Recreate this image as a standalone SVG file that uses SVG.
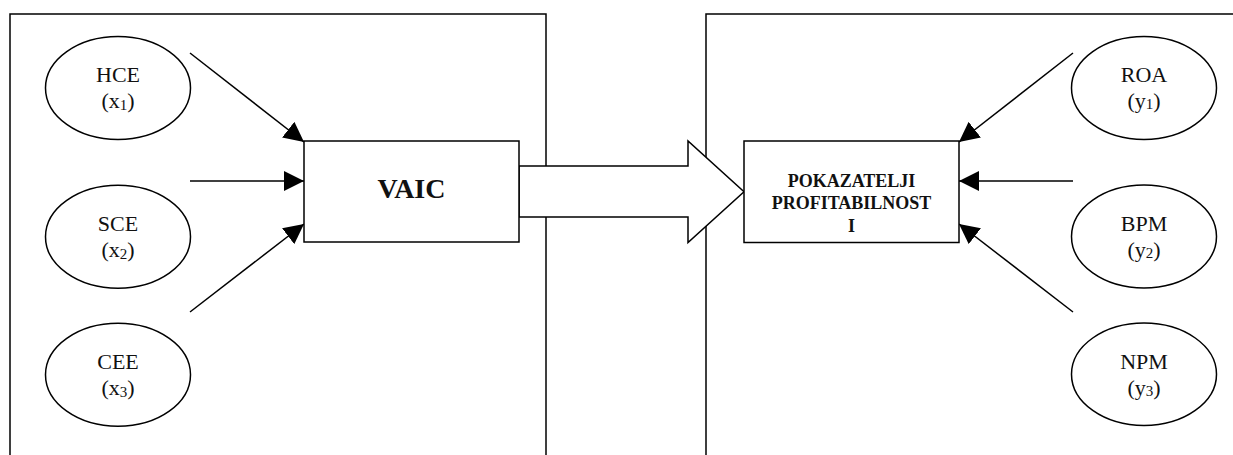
<svg xmlns="http://www.w3.org/2000/svg" width="1233" height="455" viewBox="0 0 1233 455">
<style>
  .frame { fill: none; stroke: #000; stroke-width: 1.5; }
  .box { fill: #fff; stroke: #000; stroke-width: 1.5; }
  .ell { fill: #fff; stroke: #000; stroke-width: 1.5; }
  .lbl { font-family: "Liberation Serif", "Times New Roman", serif; font-size: 22px; fill: #111; text-anchor: middle; }
  .sub { font-size: 15px; }
  .bold { font-family: "Liberation Serif", "Times New Roman", serif; font-weight: bold; fill: #111; text-anchor: middle; }
  .conn { stroke: #000; stroke-width: 1.5; fill: none; marker-end: url(#ah); }
</style>
<defs>
  <marker id="ah" markerUnits="userSpaceOnUse" markerWidth="20" markerHeight="20" refX="20" refY="10" orient="auto">
    <path d="M0,0 L20,10 L0,20 z" fill="#000"/>
  </marker>
</defs>
<rect width="1233" height="455" fill="#fff"/>
<g id="frame-left"><rect class="frame" x="10" y="14" width="536" height="460"/></g>
<g id="frame-right"><rect class="frame" x="706" y="14" width="540" height="460"/></g>

<g id="connectors">
  <line class="conn" x1="190" y1="53" x2="304" y2="142"/>
  <line class="conn" x1="190" y1="181" x2="304" y2="181"/>
  <line class="conn" x1="190" y1="312" x2="304" y2="224"/>
  <line class="conn" x1="1073" y1="53" x2="959" y2="142"/>
  <line class="conn" x1="1073" y1="181" x2="959" y2="181"/>
  <line class="conn" x1="1073" y1="312" x2="959" y2="224"/>
  <polygon id="block-arrow" points="519,166 688,166 688,141 744,191.7 688,242.5 688,217 519,217" fill="#fff" stroke="#000" stroke-width="1.5"/>
</g>

<g id="hce">
  <ellipse class="ell" cx="118" cy="88" rx="72.5" ry="51.5"/>
  <text class="lbl" x="118" y="82">HCE</text>
  <text class="lbl" x="118" y="108">(x<tspan class="sub" dy="2">1</tspan><tspan dy="-2">)</tspan></text>
</g>
<g id="sce">
  <ellipse class="ell" cx="118" cy="236.7" rx="72.5" ry="51.5"/>
  <text class="lbl" x="118" y="231">SCE</text>
  <text class="lbl" x="118" y="257">(x<tspan class="sub" dy="2">2</tspan><tspan dy="-2">)</tspan></text>
</g>
<g id="cee">
  <ellipse class="ell" cx="118" cy="374.7" rx="72.5" ry="51.5"/>
  <text class="lbl" x="118" y="369">CEE</text>
  <text class="lbl" x="118" y="395">(x<tspan class="sub" dy="2">3</tspan><tspan dy="-2">)</tspan></text>
</g>

<g id="vaic">
  <rect class="box" x="304" y="141" width="215" height="101"/>
  <text class="bold" x="411.5" y="198" font-size="28">VAIC</text>
</g>

<g id="pokazatelji">
  <rect class="box" x="744" y="141" width="215" height="101.5"/>
  <text class="bold" x="851.5" y="186.5" font-size="18">POKAZATELJI</text>
  <text class="bold" x="851.5" y="209" font-size="18">PROFITABILNOST</text>
  <text class="bold" x="851.5" y="231.5" font-size="18">I</text>
</g>

<g id="roa">
  <ellipse class="ell" cx="1144" cy="88" rx="72.5" ry="51.5"/>
  <text class="lbl" x="1144" y="82">ROA</text>
  <text class="lbl" x="1144" y="108">(y<tspan class="sub" dy="1">1</tspan><tspan dy="-1">)</tspan></text>
</g>
<g id="bpm">
  <ellipse class="ell" cx="1144" cy="236.5" rx="72.5" ry="51.5"/>
  <text class="lbl" x="1144" y="231">BPM</text>
  <text class="lbl" x="1144" y="257">(y<tspan class="sub" dy="1">2</tspan><tspan dy="-1">)</tspan></text>
</g>
<g id="npm">
  <ellipse class="ell" cx="1144" cy="374.2" rx="72.5" ry="51.2"/>
  <text class="lbl" x="1144" y="369">NPM</text>
  <text class="lbl" x="1144" y="395">(y<tspan class="sub" dy="1">3</tspan><tspan dy="-1">)</tspan></text>
</g>
</svg>
